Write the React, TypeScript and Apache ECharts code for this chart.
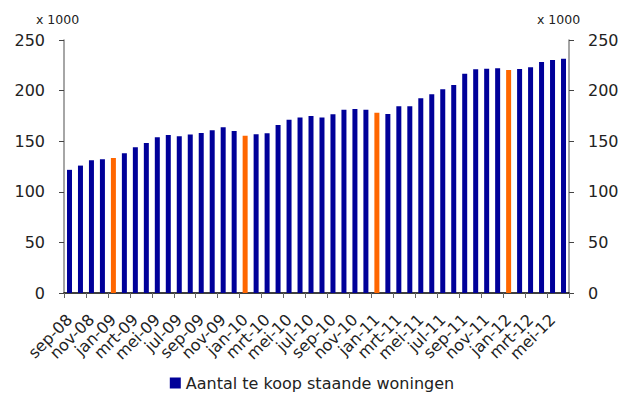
import React, { useEffect, useRef } from "react";
import * as echarts from "echarts";

const categories: string[] = [
  "sep-08", "okt-08", "nov-08", "dec-08",
  "jan-09", "feb-09", "mrt-09", "apr-09", "mei-09", "jun-09", "jul-09", "aug-09", "sep-09", "okt-09", "nov-09", "dec-09",
  "jan-10", "feb-10", "mrt-10", "apr-10", "mei-10", "jun-10", "jul-10", "aug-10", "sep-10", "okt-10", "nov-10", "dec-10",
  "jan-11", "feb-11", "mrt-11", "apr-11", "mei-11", "jun-11", "jul-11", "aug-11", "sep-11", "okt-11", "nov-11", "dec-11",
  "jan-12", "feb-12", "mrt-12", "apr-12", "mei-12", "jun-12",
];

const values: number[] = [
  121.7, 125.9, 131.2, 132.2,
  133.5, 138.2, 144.1, 148.3, 153.9, 156.2, 154.9, 156.5, 158.2, 160.9, 163.8, 160.2,
  155.3, 156.9, 157.9, 166.1, 171.3, 173.3, 175.0, 173.3, 176.6, 181.2, 181.9, 181.2,
  178.2, 176.9, 184.5, 184.5, 192.4, 196.4, 201.3, 205.6, 216.7, 221.0, 221.7, 222.0,
  220.4, 221.4, 223.0, 228.3, 230.2, 231.5,
];

const highlighted: string[] = ["jan-09", "jan-10", "jan-11", "jan-12"];

const yTicks = { min: 0, max: 250, interval: 50 };
const unitLabel = "x 1000";
const seriesName = "Aantal te koop staande woningen";

const BLUE = "#000099";
const ORANGE = "#FF6600";
const FONT = "DejaVu Sans";

export default function App() {
  const ref = useRef<HTMLDivElement>(null);

  useEffect(() => {
    if (!ref.current) return;
    const chart = echarts.init(ref.current, undefined, { renderer: "svg" });

    const yAxisCommon = {
      type: "value" as const,
      min: yTicks.min,
      max: yTicks.max,
      interval: yTicks.interval,
      splitLine: { show: false },
      axisLine: { show: true, lineStyle: { color: "#888888", width: 1.5 } },
      axisTick: { show: true, inside: false, length: 5, lineStyle: { color: "#444444" } },
      axisLabel: { fontSize: 16, fontFamily: FONT, color: "#222222", margin: 19 },
    };

    const xLabelCommon = {
      rotate: 45,
      fontSize: 16,
      fontFamily: FONT,
      color: "#222222",
      margin: 24,
      showMinLabel: true,
      showMaxLabel: true,
    };

    chart.setOption({
      animation: false,
      backgroundColor: "#ffffff",
      textStyle: { fontFamily: FONT },
      grid: { left: 64, right: 55, top: 40, bottom: 101, containLabel: false },
      graphic: [
        { type: "text", left: 36, top: 13, style: { text: unitLabel, fontSize: 12.5, fontFamily: FONT, fill: "#222222" } },
        { type: "text", left: 537, top: 13, style: { text: unitLabel, fontSize: 12.5, fontFamily: FONT, fill: "#222222" } },
      ],
      legend: {
        top: 370,
        left: "center",
        itemWidth: 11,
        itemHeight: 11,
        icon: "rect",
        textStyle: { fontSize: 16, fontFamily: FONT, color: "#222222" },
        data: [seriesName],
      },
      xAxis: [
        {
          type: "category",
          position: "bottom",
          data: categories,
          boundaryGap: true,
          axisLine: { lineStyle: { color: "#000000", width: 1.5 } },
          axisTick: {
            show: true,
            interval: (i: number) => i % 2 === 0,
            length: 5,
            lineStyle: { color: "#666666" },
          },
          axisLabel: { ...xLabelCommon, interval: (i: number) => i % 4 === 0 },
        },
        {
          type: "category",
          position: "bottom",
          offset: 0,
          data: categories,
          boundaryGap: true,
          axisLine: { show: false },
          axisTick: { show: false },
          axisLabel: { ...xLabelCommon, interval: (i: number) => i % 4 === 2 },
        },
      ],
      yAxis: [
        { ...yAxisCommon, position: "left" },
        { ...yAxisCommon, position: "right" },
      ],
      series: [
        {
          name: seriesName,
          type: "bar",
          xAxisIndex: 0,
          yAxisIndex: 0,
          barWidth: 5,
          itemStyle: { color: BLUE },
          data: values.map((v, i) =>
            highlighted.includes(categories[i])
              ? { value: v, itemStyle: { color: ORANGE } }
              : v
          ),
        },
      ],
    });

    return () => chart.dispose();
  }, []);

  return (
    <div
      ref={ref}
      style={{ position: "fixed", left: 0, top: 0, width: 624, height: 394 }}
    />
  );
}
